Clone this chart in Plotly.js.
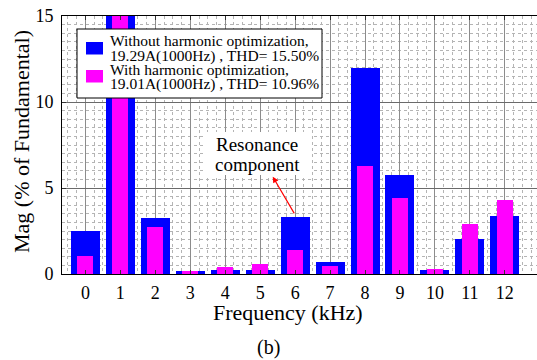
<!DOCTYPE html>
<html>
<head>
<meta charset="utf-8">
<script src="https://cdn.plot.ly/plotly-3.0.1.min.js"></script>
<style>html,body{margin:0;padding:0;background:#fff;}#chart{width:537px;height:360px;}</style>
</head>
<body>
<div id="chart"></div>
<script>
// ---- data ----
var freqs = [0,1,2,3,4,5,6,7,8,9,10,11,12];
var tickLabels = ['0','1','2','3','4','5','6','7','8','9','10','11','12'];
var withoutOpt = [2.5,100,3.25,0.19,0.23,0.25,3.3,0.69,12.0,5.77,0.23,2.03,3.37];
var withOpt    = [1.03,100,2.72,0.17,0.4,0.58,1.38,0.46,6.27,4.4,0.29,2.9,4.3];
var seriesNames = ['Without harmonic optimization,\n19.29A(1000Hz) , THD= 15.50%',
                   'With harmonic optimization,\n19.01A(1000Hz) , THD= 10.96%'];
var xTitle = 'Frequency (kHz)';
var yTitle = 'Mag (% of Fundamental)';
var caption = '(b)';
var noteLines = ['Resonance','component'];

// ---- layout helpers (pixel -> paper) ----
var W = 537, H = 360, mL = 62, mR = 0, mT = 16, mB = 86;
var pw = W - mL - mR, ph = H - mT - mB;
function px(x){ return (x - mL) / pw; }
function py(y){ return (H - mB - y) / ph; }
var FONT = '"Liberation Serif", "DejaVu Serif", serif';

var traces = [
  {type:'bar', x:freqs, y:withoutOpt, width:0.83, name:seriesNames[0],
   marker:{color:'#0000ff', line:{width:0}}, showlegend:false},
  {type:'bar', x:freqs, y:withOpt, width:0.46, name:seriesNames[1],
   marker:{color:'#ff00ff', line:{width:0}}, showlegend:false}
];

var shapes = [];
var annotations = [];

// legend box
shapes.push({type:'rect', xref:'paper', yref:'paper', layer:'above',
  x0:px(77), x1:px(322), y0:py(98), y1:py(29),
  fillcolor:'#ffffff', line:{color:'#000', width:1}});
var swColors = ['#0000ff','#ff00ff'];
var swTop = [42, 70];
var lineY = [[41,55.5],[69.5,84]];
for (var i=0;i<2;i++){
  shapes.push({type:'rect', xref:'paper', yref:'paper', layer:'above',
    x0:px(86), x1:px(103), y0:py(swTop[i]+12.5), y1:py(swTop[i]),
    fillcolor:swColors[i], line:{width:0}});
  var parts = seriesNames[i].split('\n');
  for (var j=0;j<parts.length;j++){
    annotations.push({xref:'paper', yref:'paper', x:px(108), y:py(lineY[i][j]),
      xanchor:'left', yanchor:'middle', showarrow:false, text:parts[j],
      font:{family:FONT, size:15.5, color:'#000'}});
  }
}

// resonance note
shapes.push({type:'rect', xref:'paper', yref:'paper', layer:'above',
  x0:px(204), x1:px(311), y0:py(175), y1:py(132),
  fillcolor:'#ffffff', line:{width:0}});
annotations.push({xref:'paper', yref:'paper', x:px(257), y:py(144.5), xanchor:'center', yanchor:'middle',
  showarrow:false, text:noteLines[0], font:{family:FONT, size:19, color:'#000'}});
annotations.push({xref:'paper', yref:'paper', x:px(257), y:py(164.5), xanchor:'center', yanchor:'middle',
  showarrow:false, text:noteLines[1], font:{family:FONT, size:19, color:'#000'}});
// arrow from bar 6 top to note
annotations.push({xref:'x', yref:'y', x:5.36, y:5.66, axref:'x', ayref:'y', ax:6.0, ay:3.44,
  text:'', showarrow:true, arrowhead:2, arrowsize:1, arrowwidth:1.2, arrowcolor:'#ff0000'});

// titles
annotations.push({xref:'paper', yref:'paper', x:px(287.5), y:py(312), xanchor:'center', yanchor:'middle',
  showarrow:false, text:xTitle, font:{family:FONT, size:22, color:'#000'}});
annotations.push({xref:'paper', yref:'paper', x:px(268.5), y:py(347), xanchor:'center', yanchor:'middle',
  showarrow:false, text:caption, font:{family:FONT, size:20, color:'#000'}});
annotations.push({xref:'paper', yref:'paper', x:px(21), y:py(142), xanchor:'center', yanchor:'middle',
  textangle:-90, showarrow:false, text:yTitle, font:{family:FONT, size:22, color:'#000'}});

var layout = {
  width:W, height:H,
  margin:{l:mL, r:mR, t:mT, b:mB},
  paper_bgcolor:'#fff', plot_bgcolor:'#fff',
  barmode:'overlay', bargap:0,
  showlegend:false,
  font:{family:FONT, color:'#000'},
  xaxis:{range:[-0.67,12.92], tickvals:freqs, ticktext:tickLabels,
    showgrid:true, gridcolor:'#8c8c8c', gridwidth:1,
    minor:{dtick:0.25, showgrid:true, gridcolor:'#b4b4b4', griddash:'dot', gridwidth:1},
    ticks:'inside', ticklen:4, tickcolor:'#333', tickwidth:1,
    showline:true, linecolor:'#000', linewidth:1, mirror:'ticks',
    zeroline:false, tickfont:{family:FONT, size:18, color:'#000'}, ticklabelstandoff:2},
  yaxis:{range:[0,15], tickvals:[0,5,10,15], ticktext:['0','5','10','15'],
    showgrid:true, gridcolor:'#6a6a6a', gridwidth:1,
    minor:{dtick:0.5, showgrid:true, gridcolor:'#b4b4b4', griddash:'dot', gridwidth:1},
    ticks:'inside', ticklen:4, tickcolor:'#333', tickwidth:1,
    showline:true, linecolor:'#000', linewidth:1,
    zeroline:false, tickfont:{family:FONT, size:18, color:'#000'}, ticklabelstandoff:4},
  shapes:shapes,
  annotations:annotations
};

Plotly.newPlot('chart', traces, layout, {staticPlot:true, displayModeBar:false});
</script>
</body>
</html>
